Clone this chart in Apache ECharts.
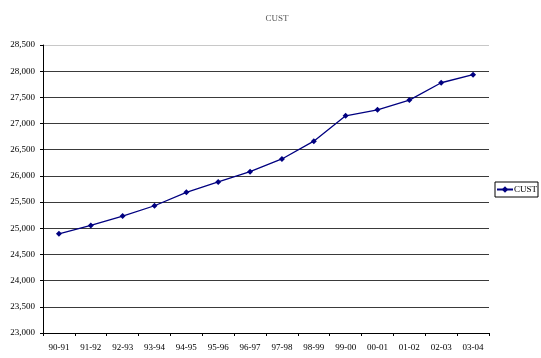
<!DOCTYPE html>
<html>
<head>
<meta charset="utf-8">
<script src="https://cdn.jsdelivr.net/npm/echarts@6/dist/echarts.min.js"></script>
<style>
  html, body { margin: 0; padding: 0; background: #fff; }
  #chart { width: 541px; height: 358px; }
</style>
</head>
<body>
<div id="chart"></div>
<script>
// Customer counts by financial year
const categories = ['90-91', '91-92', '92-93', '93-94', '94-95', '95-96', '96-97',
                    '97-98', '98-99', '99-00', '00-01', '01-02', '02-03', '03-04'];
const custValues = [24895, 25055, 25233, 25430, 25687, 25884, 26081,
                    26324, 26663, 27147, 27262, 27448, 27779, 27932];
const yMin = 23000;
const yMax = 28500;
const yStep = 500;

const serif = '"Liberation Serif", "DejaVu Serif", serif';

// grid line shades: dark lines, lighter line at the top edge
const gridColors = [];
for (let v = yMin; v <= yMax; v += yStep) {
  gridColors.push(v === yMax ? '#c8c8c8' : '#3a3a3a');
}

const chart = echarts.init(document.getElementById('chart'), null, { renderer: 'canvas' });
chart.setOption({
  animation: false,
  backgroundColor: '#ffffff',
  title: {
    text: 'CUST',
    left: 272,
    top: 9,
    textAlign: 'center',
    textStyle: { fontFamily: serif, fontSize: 9, fontWeight: 'normal', color: '#555' }
  },
  legend: {
    data: ['CUST'],
    orient: 'vertical',
    left: 495,
    top: 182,
    padding: [3, 1, 3, 1],
    itemGap: 0,
    itemWidth: 16,
    itemHeight: 8,
    borderColor: '#000',
    borderWidth: 1,
    borderRadius: 0,
    textStyle: { fontFamily: serif, fontSize: 9, color: '#000', padding: [0, 0, 0, -4] }
  },
  grid: { left: 43, right: 52, top: 45, bottom: 25, containLabel: false },
  xAxis: {
    type: 'category',
    data: categories,
    boundaryGap: true,
    axisLine: { lineStyle: { color: '#000', width: 1 } },
    axisTick: { show: true, length: 3, lineStyle: { color: '#000' } },
    axisLabel: { fontFamily: serif, fontSize: 9, color: '#000', margin: 10 },
    splitLine: { show: false }
  },
  yAxis: {
    type: 'value',
    min: yMin,
    max: yMax,
    interval: yStep,
    axisLine: { show: true, lineStyle: { color: '#000', width: 1 } },
    axisTick: { show: true, length: 3, lineStyle: { color: '#000' } },
    axisLabel: {
      fontFamily: serif, fontSize: 9, color: '#000', margin: 8,
      formatter: v => v.toLocaleString('en-US')
    },
    splitLine: { show: true, lineStyle: { color: gridColors, width: 1 } }
  },
  series: [{
    name: 'CUST',
    type: 'line',
    data: custValues,
    symbol: 'diamond',
    symbolSize: 6,
    lineStyle: { color: '#000080', width: 1.3 },
    itemStyle: { color: '#000080' }
  }]
});
</script>
</body>
</html>
